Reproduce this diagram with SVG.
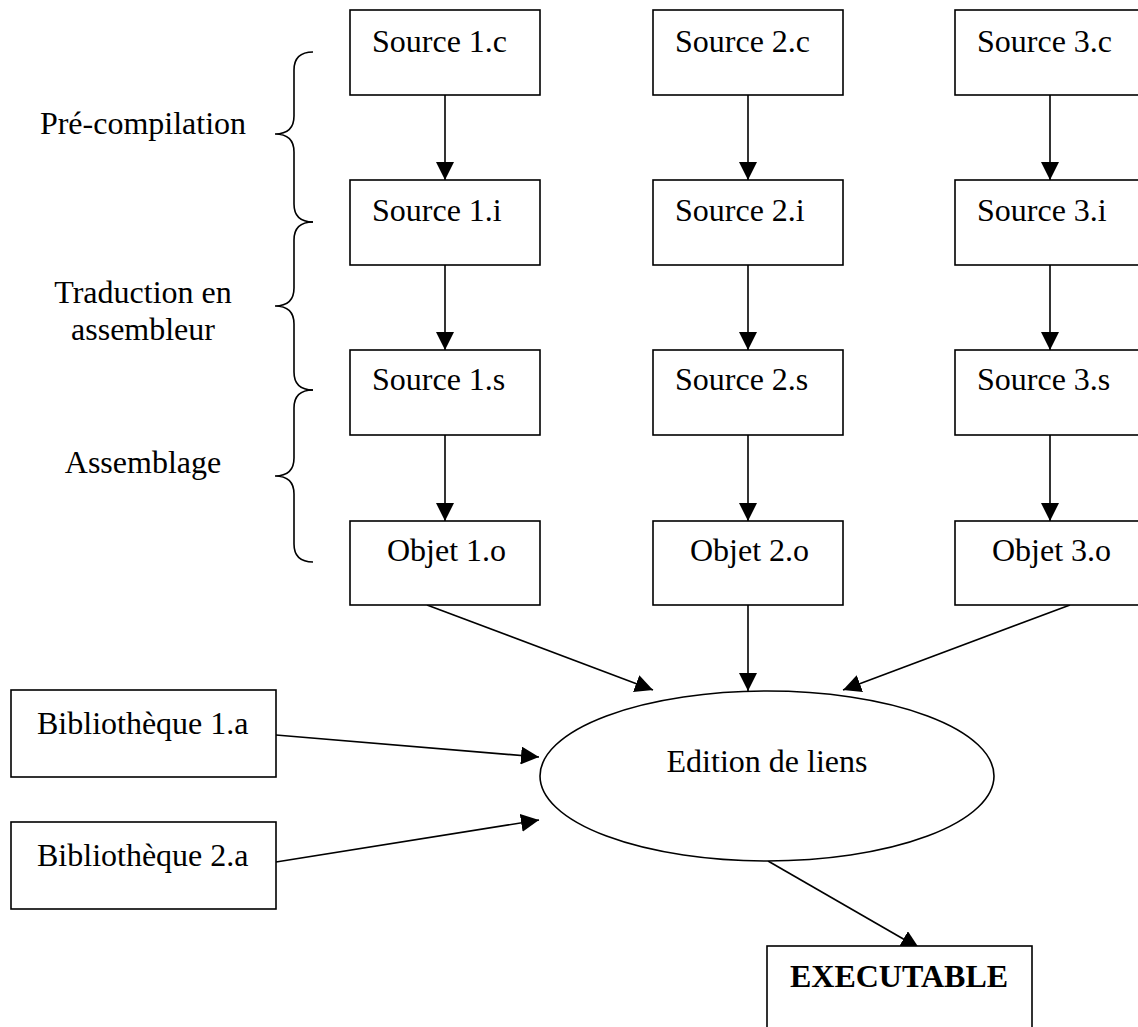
<svg xmlns="http://www.w3.org/2000/svg" width="1138" height="1027" viewBox="0 0 1138 1027">
<style>
.box{fill:#fff;stroke:#000;stroke-width:1.6}
.t{font-family:"Liberation Serif","Times New Roman",serif;font-size:32px;fill:#000}
.b{font-weight:bold}
.c{stroke:#000;stroke-width:1.6;fill:none}
.br{stroke:#000;stroke-width:1.6;fill:none}
</style>
<defs>
<marker id="ah" markerUnits="userSpaceOnUse" markerWidth="18" markerHeight="18" refX="17" refY="8.5" orient="auto" viewBox="0 0 17 17">
<path d="M0,0 L17,8.5 L0,17 z" fill="#000"/>
</marker>
</defs>
<rect width="1138" height="1027" fill="#fff"/>

<g id="connectors">
<line class="c" x1="445" y1="95" x2="445" y2="180" marker-end="url(#ah)"/>
<line class="c" x1="445" y1="265" x2="445" y2="350" marker-end="url(#ah)"/>
<line class="c" x1="445" y1="435" x2="445" y2="521" marker-end="url(#ah)"/>
<line class="c" x1="748" y1="95" x2="748" y2="180" marker-end="url(#ah)"/>
<line class="c" x1="748" y1="265" x2="748" y2="350" marker-end="url(#ah)"/>
<line class="c" x1="748" y1="435" x2="748" y2="521" marker-end="url(#ah)"/>
<line class="c" x1="1050" y1="95" x2="1050" y2="180" marker-end="url(#ah)"/>
<line class="c" x1="1050" y1="265" x2="1050" y2="350" marker-end="url(#ah)"/>
<line class="c" x1="1050" y1="435" x2="1050" y2="521" marker-end="url(#ah)"/>
<line class="c" x1="427" y1="605" x2="653" y2="690" marker-end="url(#ah)"/>
<line class="c" x1="748" y1="605" x2="748" y2="691" marker-end="url(#ah)"/>
<line class="c" x1="1070" y1="605" x2="843" y2="690" marker-end="url(#ah)"/>
<line class="c" x1="276" y1="735" x2="539" y2="757" marker-end="url(#ah)"/>
<line class="c" x1="276" y1="862" x2="539" y2="820" marker-end="url(#ah)"/>
<line class="c" x1="768" y1="861" x2="919" y2="948" marker-end="url(#ah)"/>
</g>

<g id="braces">
<path class="br" d="M313,52 Q294,52 294,70 L294,116 Q294,134 275,134 Q294,134 294,152 L294,204 Q294,222 313,222"/>
<path class="br" d="M313,222 Q294,222 294,240 L294,288 Q294,306 275,306 Q294,306 294,324 L294,372 Q294,390 313,390"/>
<path class="br" d="M313,390 Q294,390 294,408 L294,458 Q294,476 275,476 Q294,476 294,494 L294,544 Q294,562 313,562"/>
</g>

<g id="labels">
<text class="t" x="143" y="134" text-anchor="middle">Pré-compilation</text>
<text class="t" x="143" y="303" text-anchor="middle">Traduction en</text>
<text class="t" x="143" y="340" text-anchor="middle">assembleur</text>
<text class="t" x="143" y="473" text-anchor="middle">Assemblage</text>
</g>

<g id="src1c"><rect class="box" x="350" y="10" width="190" height="85"/><text class="t" x="372" y="52">Source 1.c</text></g>
<g id="src2c"><rect class="box" x="653" y="10" width="190" height="85"/><text class="t" x="675" y="52">Source 2.c</text></g>
<g id="src3c"><rect class="box" x="955" y="10" width="190" height="85"/><text class="t" x="977" y="52">Source 3.c</text></g>

<g id="src1i"><rect class="box" x="350" y="180" width="190" height="85"/><text class="t" x="372" y="221">Source 1.i</text></g>
<g id="src2i"><rect class="box" x="653" y="180" width="190" height="85"/><text class="t" x="675" y="221">Source 2.i</text></g>
<g id="src3i"><rect class="box" x="955" y="180" width="190" height="85"/><text class="t" x="977" y="221">Source 3.i</text></g>

<g id="src1s"><rect class="box" x="350" y="350" width="190" height="85"/><text class="t" x="372" y="390">Source 1.s</text></g>
<g id="src2s"><rect class="box" x="653" y="350" width="190" height="85"/><text class="t" x="675" y="390">Source 2.s</text></g>
<g id="src3s"><rect class="box" x="955" y="350" width="190" height="85"/><text class="t" x="977" y="390">Source 3.s</text></g>

<g id="obj1"><rect class="box" x="350" y="521" width="190" height="84"/><text class="t" x="387" y="561">Objet 1.o</text></g>
<g id="obj2"><rect class="box" x="653" y="521" width="190" height="84"/><text class="t" x="690" y="561">Objet 2.o</text></g>
<g id="obj3"><rect class="box" x="955" y="521" width="190" height="84"/><text class="t" x="992" y="561">Objet 3.o</text></g>

<g id="bib1"><rect class="box" x="11" y="690" width="265" height="87"/><text class="t" x="37" y="734">Bibliothèque 1.a</text></g>
<g id="bib2"><rect class="box" x="11" y="822" width="265" height="87"/><text class="t" x="37" y="866">Bibliothèque 2.a</text></g>

<g id="edition"><ellipse class="box" cx="767" cy="776" rx="227" ry="85"/><text class="t" x="767" y="772" text-anchor="middle">Edition de liens</text></g>

<g id="exec"><rect class="box" x="767" y="946" width="265" height="100"/><text class="t b" x="899" y="987" text-anchor="middle">EXECUTABLE</text></g>
</svg>
